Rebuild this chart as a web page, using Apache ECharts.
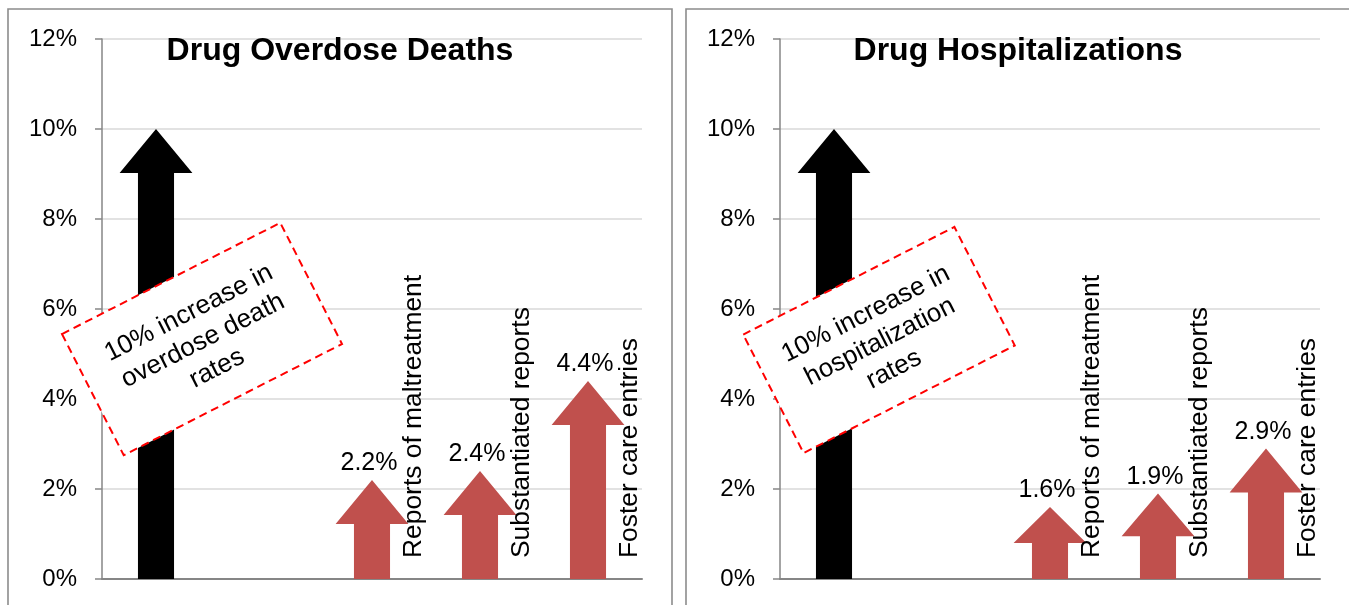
<!DOCTYPE html>
<html>
<head>
<meta charset="utf-8">
<title>Drug overdose deaths and hospitalizations vs. child welfare outcomes</title>
<script src="https://cdn.jsdelivr.net/npm/echarts@6/dist/echarts.min.js"></script>
<style>
  html, body { margin: 0; padding: 0; background: #ffffff; }
  #chart { width: 1349px; height: 605px; }
</style>
</head>
<body>
<div id="chart"></div>
<script>
// Percent increase associated with a 10% rise in each drug measure
const outcomeNames = ['Reports of maltreatment', 'Substantiated reports', 'Foster care entries'];
const deathOutcomes = [2.2, 2.4, 4.4];
const hospitalOutcomes = [1.6, 1.9, 2.9];
const drugRateIncrease = 10;

// x slots: the drug measure, a spacer, then the three outcomes
const categories = ['Drug measure', 'Spacer', ...outcomeNames];
const yTicks = [0, 2, 4, 6, 8, 10, 12];

const panelTitles = ['Drug Overdose Deaths', 'Drug Hospitalizations'];
const noteTexts = ['10% increase in\noverdose death\nrates', '10% increase in\nhospitalization\nrates'];

const FONT = '"Liberation Sans", Arial, sans-serif';
const RED = '#c0504d';

function arrowItem(withLabels) {
  return function (params, api) {
    const cat = api.value(0);
    const val = api.value(1);
    const base = api.coord([cat, 0]);
    const tip = api.coord([cat, val]);
    const band = api.size([1, 0])[0];
    const cx = base[0];
    const headHalf = band * 0.337;
    const shaftHalf = band * 0.167;
    const len = base[1] - tip[1];
    const headH = Math.min(44, len * 0.5);
    const hy = tip[1] + headH;
    const children = [{
      type: 'polygon',
      shape: {
        points: [
          [cx - shaftHalf, base[1]], [cx - shaftHalf, hy], [cx - headHalf, hy],
          [cx, tip[1]], [cx + headHalf, hy], [cx + shaftHalf, hy], [cx + shaftHalf, base[1]]
        ]
      },
      style: { fill: api.visual('color') }
    }];
    if (withLabels) {
      children.push({
        type: 'text',
        x: cx - 3,
        y: tip[1] - 4,
        style: {
          text: val.toFixed(1) + '%',
          font: '25px ' + FONT,
          fill: '#000',
          align: 'center',
          verticalAlign: 'bottom'
        }
      });
      children.push({
        type: 'text',
        x: cx + 29,
        y: base[1] - 21,
        rotation: Math.PI / 2,
        style: {
          text: categories[cat],
          font: '26.4px ' + FONT,
          fill: '#000',
          align: 'left',
          verticalAlign: 'top'
        }
      });
    }
    return { type: 'group', children: children };
  };
}

const grids = [
  { left: 102, right: 707, top: 39, bottom: 26 },
  { left: 780, right: 29, top: 39, bottom: 26 }
];

const xAxes = grids.map((g, i) => ({
  type: 'category',
  gridIndex: i,
  data: categories,
  boundaryGap: true,
  axisLine: { show: true, lineStyle: { color: '#868686', width: 2 } },
  axisTick: { show: false },
  axisLabel: { show: false },
  splitLine: { show: false }
}));

const yAxes = grids.map((g, i) => ({
  type: 'value',
  gridIndex: i,
  min: yTicks[0],
  max: yTicks[yTicks.length - 1],
  interval: yTicks[1] - yTicks[0],
  axisLine: { show: true, lineStyle: { color: '#868686', width: 1.5 } },
  axisTick: { show: true, length: 7, lineStyle: { color: '#868686', width: 1.5 } },
  axisLabel: {
    formatter: '{value}%',
    color: '#000',
    fontFamily: FONT,
    fontSize: 24,
    margin: 25
  },
  splitLine: { show: true, lineStyle: { color: '#d9d9d9', width: 1.5 } }
}));

const outcomeSets = [deathOutcomes, hospitalOutcomes];
const series = [];
outcomeSets.forEach((vals, i) => {
  series.push({
    type: 'custom',
    name: panelTitles[i] + ' rate',
    xAxisIndex: i,
    yAxisIndex: i,
    color: '#000000',
    renderItem: arrowItem(false),
    encode: { x: 0, y: 1 },
    data: [[categories[0], drugRateIncrease]],
    z: 2
  });
  series.push({
    type: 'custom',
    name: panelTitles[i] + ' outcomes',
    xAxisIndex: i,
    yAxisIndex: i,
    color: RED,
    renderItem: arrowItem(true),
    encode: { x: 0, y: 1 },
    data: outcomeNames.map((n, k) => [n, vals[k]]),
    z: 2
  });
});

// Rotated dashed callouts over the drug-measure arrows
function note(cx, cy, w, h, text) {
  return {
    type: 'group',
    x: cx,
    y: cy,
    rotation: 27 * Math.PI / 180,
    zlevel: 1,
    z: 100,
    children: [
      {
        type: 'rect',
        zlevel: 1,
        z: 100,
        shape: { x: -w / 2, y: -h / 2, width: w, height: h },
        style: { fill: '#ffffff', stroke: '#ff0000', lineWidth: 2, lineDash: [8, 5] }
      },
      {
        type: 'text',
        zlevel: 1,
        z: 101,
        x: 0,
        y: 2,
        style: {
          text: text,
          font: '26px ' + FONT,
          fill: '#000',
          align: 'center',
          verticalAlign: 'middle',
          lineHeight: 31
        }
      }
    ]
  };
}

const option = {
  backgroundColor: '#ffffff',
  animation: false,
  title: [
    { text: panelTitles[0], left: 335, top: 30, textAlign: 'center',
      textStyle: { fontFamily: FONT, fontWeight: 'bold', fontSize: 32, color: '#000' } },
    { text: panelTitles[1], left: 1013, top: 30, textAlign: 'center',
      textStyle: { fontFamily: FONT, fontWeight: 'bold', fontSize: 32, color: '#000' } }
  ],
  grid: grids,
  xAxis: xAxes,
  yAxis: yAxes,
  series: series,
  graphic: [
    { type: 'rect', z: 0, shape: { x: 8, y: 9, width: 664, height: 640 },
      style: { fill: 'none', stroke: '#8c8c8c', lineWidth: 1.6 } },
    { type: 'rect', z: 0, shape: { x: 686, y: 9, width: 700, height: 640 },
      style: { fill: 'none', stroke: '#8c8c8c', lineWidth: 1.6 } },
    note(202, 339, 245, 136, noteTexts[0]),
    note(879, 340, 237, 133, noteTexts[1])
  ]
};

const chart = echarts.init(document.getElementById('chart'), null, { renderer: 'canvas' });
chart.setOption(option);
</script>
</body>
</html>
